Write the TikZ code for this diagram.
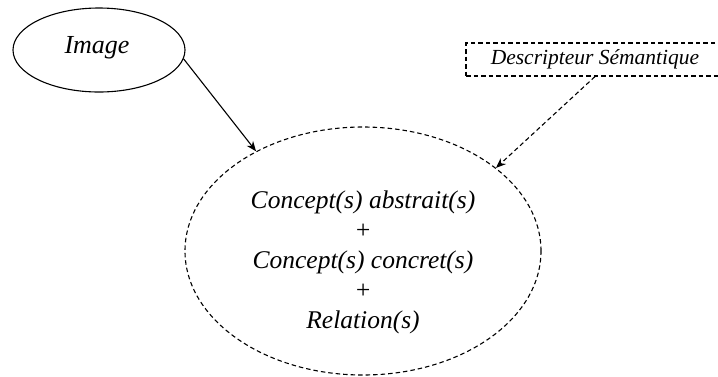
\documentclass[tikz,border=0pt]{standalone}
\usepackage{fontspec}
\setmainfont{Liberation Serif}
\usetikzlibrary{shapes.geometric,arrows.meta}
\begin{document}
\begin{tikzpicture}[x=1pt,y=-1pt,
  elli/.style={ellipse,draw,line width=1.1pt,inner sep=0pt},
  dashline/.style={dash pattern=on 4.5pt off 3pt},
  arr/.style={line width=1.1pt,-{Stealth[length=10pt,width=8pt]}},
  lbl/.style={font=\itshape}]
\useasboundingbox (0,0) rectangle (718,376);
\node[elli,minimum width=172pt,minimum height=84pt] (img) at (99,50) {};
\node[lbl,font=\fontsize{26}{30}\selectfont\itshape] (imgt) at (97,48) {Image};
\node[draw,line width=1.1pt,dashline,minimum width=258pt,minimum height=33pt,inner sep=0pt] (desc) at (595,59.5) {};
\node[font=\fontsize{21.5}{26}\selectfont\itshape] (desct) at (595,59) {Descripteur Sémantique};
\node[elli,dashline,minimum width=356pt,minimum height=248pt] (big) at (363,251) {};
\node[align=center,font=\fontsize{25.5}{30}\selectfont\itshape] (bigt) at (363,262)
  {Concept(s) abstrait(s)\\+\\Concept(s) concret(s)\\+\\Relation(s)};
\draw[arr] (img.-6.8) -- (big.137.5);
\draw[arr,dashline] (desc.south) -- (big.32.7);
\end{tikzpicture}
\end{document}
